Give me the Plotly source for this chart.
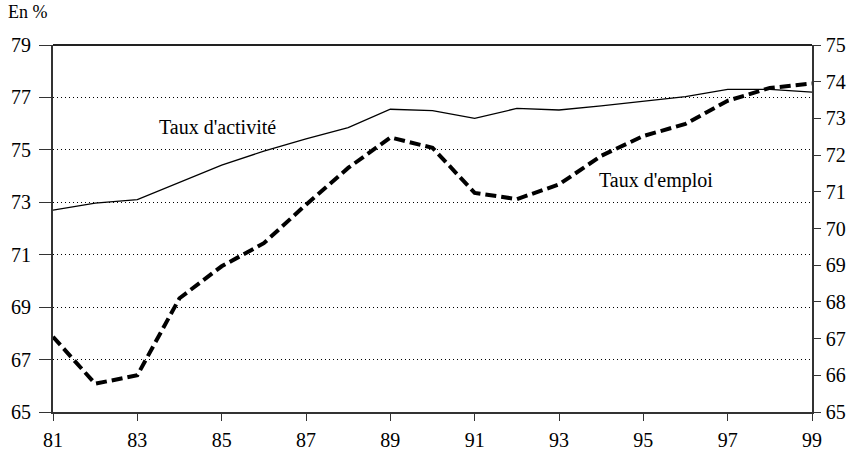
import plotly.graph_objects as go

# Années (1981-1999, notées sur deux chiffres)
annees = list(range(81, 100))

# Taux d'activité (axe de gauche, en %)
taux_activite = [72.7, 72.97, 73.1, 73.75, 74.42, 74.95, 75.42, 75.85, 76.55,
                 76.5, 76.2, 76.58, 76.52, 76.68, 76.86, 77.03, 77.31, 77.31, 77.2]

# Taux d'emploi (axe de droite, en %)
taux_emploi = [67.05, 65.77, 66.0, 68.1, 68.97, 69.6, 70.65, 71.65, 72.48,
               72.2, 70.97, 70.8, 71.2, 71.98, 72.52, 72.85, 73.48, 73.83, 73.95]

ticks_x = list(range(81, 100, 2))
ticks_gauche = list(range(65, 80, 2))
ticks_droite = list(range(65, 76, 1))

police = "Liberation Serif, Times New Roman, serif"
police_ticks = dict(family=police, size=20, color="black")

fig = go.Figure()
fig.add_trace(go.Scatter(
    x=annees, y=taux_activite, mode="lines",
    line=dict(color="black", width=1.3), yaxis="y", showlegend=False))
fig.add_trace(go.Scatter(
    x=annees, y=taux_emploi, mode="lines",
    line=dict(color="black", width=4, dash="11px,5px"), yaxis="y2",
    showlegend=False))

fig.update_layout(
    width=861, height=451,
    margin=dict(l=53, r=49, t=45, b=39),
    paper_bgcolor="white", plot_bgcolor="white",
    font=dict(family=police, size=18, color="black"),
    xaxis=dict(range=[81, 99], tickvals=ticks_x, ticktext=[str(t) for t in ticks_x],
               showgrid=False, zeroline=False, showline=True, linecolor="#333",
               linewidth=2, ticks="outside", ticklen=7, tickwidth=1, tickcolor="#333",
               tickfont=police_ticks, ticklabelstandoff=2, automargin=False),
    yaxis=dict(range=[65, 79], tickvals=ticks_gauche, showgrid=True,
               gridcolor="black", gridwidth=1, griddash="1px,3px",
               zeroline=False, showline=True, linecolor="#333", linewidth=2,
               ticks="outside", ticklen=12, tickwidth=1, tickcolor="#333",
               tickfont=police_ticks, ticklabelstandoff=4, automargin=False),
    yaxis2=dict(range=[65, 75], tickvals=ticks_droite, overlaying="y", side="right",
                showgrid=False, zeroline=False, showline=True, linecolor="#333",
                linewidth=1.5, ticks="outside", ticklen=7, tickwidth=1,
                tickcolor="#333", tickfont=police_ticks, ticklabelstandoff=1,
                automargin=False),
    shapes=[dict(type="line", xref="paper", yref="paper", x0=0, x1=1, y0=1, y1=1,
                 line=dict(color="#222", width=2))],
    annotations=[
        dict(text="En %", xref="paper", yref="paper", x=-0.062, y=1.09,
             xanchor="left", yanchor="middle", showarrow=False,
             font=dict(size=18)),
        dict(text="Taux d'activité", x=84.9, y=75.87, xref="x", yref="y",
             showarrow=False, font=dict(size=20)),
        dict(text="Taux d'emploi", x=95.3, y=71.3, xref="x", yref="y2",
             showarrow=False, font=dict(size=20)),
    ],
)

fig.write_html("out.html")
